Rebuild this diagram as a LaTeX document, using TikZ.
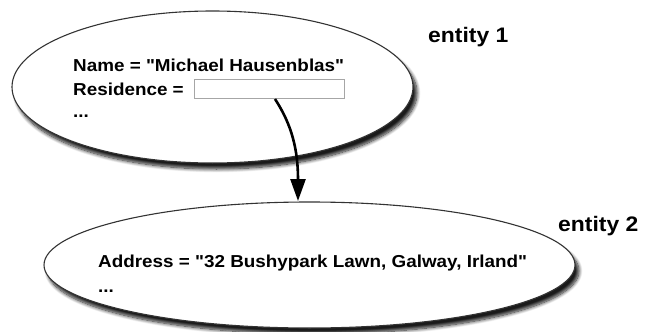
\documentclass[tikz,border=0pt]{standalone}
\usepackage{fontspec}
\setmainfont{Liberation Sans}[FakeStretch=1.09, Ligatures=TeXOff]
\usetikzlibrary{shapes.geometric,shadows.blur,arrows.meta}
\tikzset{
  entity/.style={ellipse, draw=black!80, line width=1.1pt, fill=white, inner sep=0pt,
    blur shadow={shadow xshift=4pt, shadow yshift=-6pt, shadow blur steps=10, shadow blur radius=3.5pt, shadow opacity=90}},
  txt/.style={anchor=base west, inner sep=0pt, font=\bfseries\fontsize{17.3}{20}\selectfont},
  lbl/.style={anchor=base west, inner sep=0pt, font=\bfseries\fontsize{21}{24}\selectfont},
  slot/.style={draw=black!35, line width=1pt, fill=white, inner sep=0pt, minimum width=150pt, minimum height=19pt},
  link/.style={line width=2.6pt, -{Triangle[width=15pt,length=22pt]}}
}
\begin{document}
\begin{tikzpicture}[x=1pt,y=-1pt]
\useasboundingbox (0,0) rectangle (646,332);
\node[entity, minimum width=401pt, minimum height=152pt] (e1) at (212.5,87) {};
\node[entity, minimum width=531pt, minimum height=126pt] (e2) at (309.5,265) {};
\node[txt] (name) at (73,71) {Name = "Michael Hausenblas"};
\node[txt] (res) at (73,95) {Residence =};
\node[txt] (dots1) at (73,117) {...};
\node[slot] (box) at (269,88.5) {};
\node[txt] (addr) at (98,267) {Address = "32 Bushypark Lawn, Galway, Irland"};
\node[txt] (dots2) at (98,292) {...};
\node[lbl] (l1) at (428,42) {entity 1};
\node[lbl] (l2) at (558,231) {entity 2};
\coordinate (a0) at (275,99);
\coordinate (a1) at (298,201);
\draw[link] (a0) .. controls (292,125) and (298,150) .. (a1);
\end{tikzpicture}
\end{document}
